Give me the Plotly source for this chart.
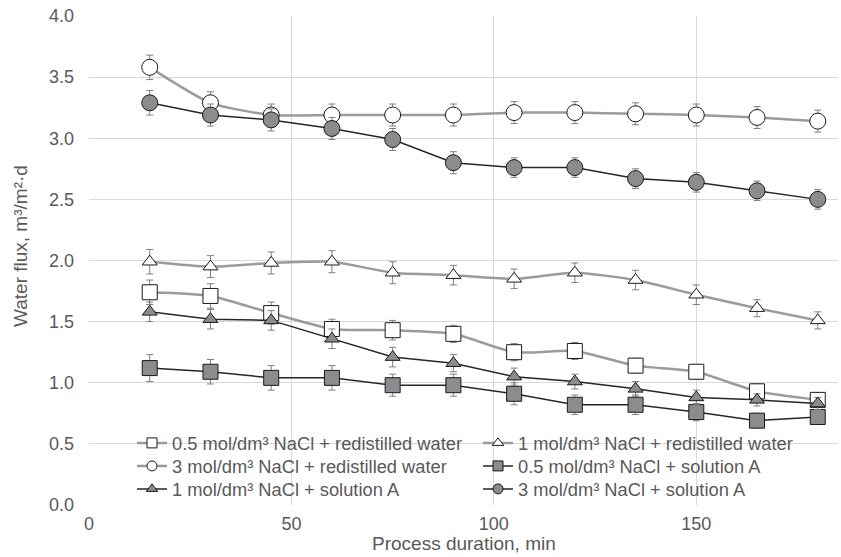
import plotly.graph_objects as go

# Process duration, min
duration = [15, 30, 45, 60, 75, 90, 105, 120, 135, 150, 165, 180]

# Water flux, m3/m2*d, and standard deviations
flux_05_rw = [1.74, 1.71, 1.57, 1.44, 1.43, 1.40, 1.25, 1.26, 1.14, 1.09, 0.93, 0.86]
err_05_rw = [0.10, 0.10, 0.09, 0.08, 0.08, 0.07, 0.07, 0.07, 0.06, 0.06, 0.06, 0.06]

flux_1_rw = [1.99, 1.95, 1.98, 1.99, 1.90, 1.88, 1.85, 1.90, 1.84, 1.72, 1.61, 1.51]
err_1_rw = [0.10, 0.09, 0.09, 0.09, 0.09, 0.08, 0.08, 0.08, 0.08, 0.08, 0.07, 0.07]

flux_3_rw = [3.58, 3.29, 3.19, 3.19, 3.19, 3.19, 3.21, 3.21, 3.20, 3.19, 3.17, 3.14]
err_3_rw = [0.10, 0.09, 0.09, 0.09, 0.09, 0.09, 0.09, 0.09, 0.09, 0.09, 0.09, 0.09]

flux_05_a = [1.12, 1.09, 1.04, 1.04, 0.98, 0.98, 0.91, 0.82, 0.82, 0.76, 0.69, 0.72]
err_05_a = [0.11, 0.10, 0.10, 0.10, 0.09, 0.09, 0.09, 0.08, 0.08, 0.07, 0.06, 0.06]

flux_1_a = [1.58, 1.52, 1.51, 1.36, 1.21, 1.16, 1.05, 1.01, 0.95, 0.88, 0.86, 0.83]
err_1_a = [0.08, 0.08, 0.08, 0.08, 0.08, 0.07, 0.07, 0.06, 0.06, 0.06, 0.05, 0.05]

flux_3_a = [3.29, 3.19, 3.15, 3.08, 2.99, 2.80, 2.76, 2.76, 2.67, 2.64, 2.57, 2.50]
err_3_a = [0.10, 0.09, 0.09, 0.09, 0.09, 0.09, 0.08, 0.08, 0.08, 0.08, 0.08, 0.08]

labels = [
    "0.5 mol/dm³ NaCl + redistilled water",
    "1 mol/dm³ NaCl + redistilled water",
    "3 mol/dm³ NaCl + redistilled water",
    "0.5 mol/dm³ NaCl + solution A",
    "1 mol/dm³ NaCl + solution A",
    "3 mol/dm³ NaCl + solution A",
]

x_title = "Process duration, min"
y_title = "Water flux, m³/m²·d"

GRAY_LINE = "#9b9b9b"
DARK_LINE = "#262626"
GRAY_FILL = "#8c8c8f"
TEXT = "#595959"
FONT = "Liberation Sans, Arial, sans-serif"

series = [
    (flux_05_rw, err_05_rw, "square", "white", GRAY_LINE, 2.5, "spline", 15),
    (flux_1_rw, err_1_rw, "triangle-up", "white", GRAY_LINE, 2.5, "spline", 13),
    (flux_3_rw, err_3_rw, "circle", "white", GRAY_LINE, 2.5, "spline", 16),
    (flux_05_a, err_05_a, "square", GRAY_FILL, DARK_LINE, 1.5, "linear", 15),
    (flux_1_a, err_1_a, "triangle-up", GRAY_FILL, DARK_LINE, 1.5, "linear", 13),
    (flux_3_a, err_3_a, "circle", GRAY_FILL, DARK_LINE, 1.5, "linear", 16),
]

# plot area in pixels: left 89, right 838, top 16, bottom 505
PL, PR, PT, PB = 89, 838, 16, 505
PW, PH = PR - PL, PB - PT


def px_x(p):
    return (p - PL) / PW


def px_y(p):
    return (PB - p) / PH


fig = go.Figure()

for (vals, errs, sym, fill, lcol, lw, shape, msize), name in zip(series, labels):
    fig.add_trace(go.Scatter(
        x=duration, y=vals, mode="lines+markers", name=name, showlegend=False,
        line=dict(color=lcol, width=lw, shape=shape, smoothing=0.6),
        marker=dict(symbol=sym, size=msize, color=fill,
                    line=dict(color="#1a1a1a", width=1)),
        error_y=dict(type="data", array=errs, visible=True,
                     color="#7f7f7f", thickness=1, width=3.5),
    ))

# Legend entries with compact symbols, two per row, one legend per row
legend_ids = ["legend", "legend", "legend2", "legend2", "legend3", "legend3"]
for (vals, errs, sym, fill, lcol, lw, shape, msize), name, lg in zip(series, labels, legend_ids):
    fig.add_trace(go.Scatter(
        x=[None], y=[None], mode="lines+markers", name=name, legend=lg,
        line=dict(color=lcol, width=lw),
        marker=dict(symbol=sym, size=10, color=fill,
                    line=dict(color="#1a1a1a", width=1)),
    ))

row_centers = [443, 466, 489]


def legend_row(yc):
    return dict(
        orientation="h", x=px_x(132), y=px_y(yc), xanchor="left", yanchor="middle",
        bgcolor="rgba(0,0,0,0)", borderwidth=0, entrywidth=301,
        font=dict(size=18.3, color=TEXT, family=FONT),
    )


fig.update_layout(
    width=841, height=557,
    margin=dict(l=PL, r=841 - PR, t=PT, b=557 - PB),
    paper_bgcolor="white", plot_bgcolor="white",
    font=dict(family=FONT, color=TEXT, size=18),
    legend=legend_row(row_centers[0]),
    legend2=legend_row(row_centers[1]),
    legend3=legend_row(row_centers[2]),
    xaxis=dict(
        range=[0, 185], dtick=50, tick0=0, showgrid=True, gridcolor="#d9d9d9",
        gridwidth=1, zeroline=False, showline=False, ticks="",
        tickfont=dict(size=18, color=TEXT), ticklabelstandoff=6,
    ),
    yaxis=dict(
        range=[0, 4.0], dtick=0.5, tick0=0, tickformat=".1f", showgrid=True,
        gridcolor="#d9d9d9", gridwidth=1, zeroline=False, showline=False, ticks="",
        tickfont=dict(size=18, color=TEXT), ticklabelstandoff=14,
    ),
    # white panel behind the legend rows, above the gridlines, under the data
    shapes=[
        dict(type="rect", xref="paper", yref="paper",
             x0=px_x(125), x1=px_x(817), y0=px_y(503), y1=px_y(430),
             fillcolor="white", line=dict(width=0), layer="between"),
    ],
    annotations=[
        dict(text=x_title, xref="paper", yref="paper", x=px_x(463.5), y=px_y(543),
             xanchor="center", yanchor="middle", showarrow=False,
             font=dict(size=19, color=TEXT, family=FONT)),
        dict(text=y_title, xref="paper", yref="paper", x=px_x(20), y=px_y(246),
             xanchor="center", yanchor="middle", showarrow=False, textangle=-90,
             font=dict(size=19, color=TEXT, family=FONT)),
    ],
)

fig.write_html("out.html")
